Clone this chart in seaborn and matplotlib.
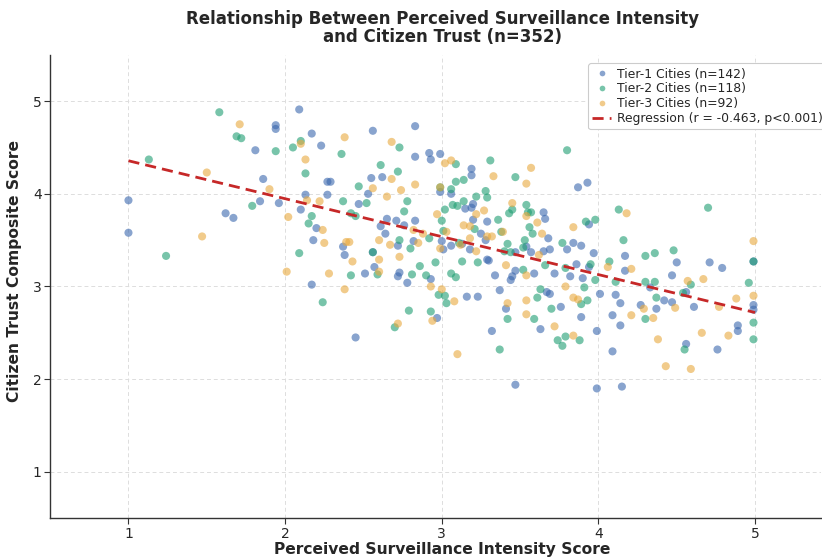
import numpy as np
import pandas as pd
import matplotlib
matplotlib.use("Agg")
import matplotlib.pyplot as plt
import seaborn as sns

# Survey responses: (perceived surveillance intensity, citizen trust composite)
tier1_x = [1.94, 1.94, 1.81, 1.86, 1.00, 1.84, 1.96, 1.62, 1.67, 1.00,
           2.09, 2.17, 2.56, 2.83, 2.23, 2.92, 2.99, 2.83, 2.93, 2.27, 2.29, 2.55, 2.62, 2.99,
           2.13, 2.27, 2.53, 2.47, 2.10, 2.65, 2.71, 2.83, 2.20, 2.61, 2.76, 2.64, 2.18, 2.82,
           2.37, 2.72, 3.00, 2.38, 2.51, 2.56, 2.57, 2.72, 2.73, 2.78, 2.93, 2.17, 2.97, 2.45,
           3.19, 3.19, 3.87, 3.93, 3.06, 3.20, 3.15, 3.19, 3.65, 3.66, 3.20, 3.29, 3.94, 3.25,
           3.28, 3.68, 3.13, 3.84, 3.89, 3.06, 3.01, 3.54,
           3.18, 3.47, 3.57, 3.65, 3.69, 3.80, 3.97, 3.29, 3.30, 3.86, 3.94, 3.34, 3.47, 3.45,
           3.44, 3.59, 3.72, 3.82, 3.90, 3.16, 3.23, 3.37, 3.41, 3.67, 3.69, 3.76, 3.89, 4.01,
           4.11, 3.63, 3.32, 3.99, 4.09, 4.09, 3.47, 3.99,
           4.99, 4.17, 4.17, 4.50, 4.71, 4.79, 4.47, 4.33, 4.56, 4.14, 4.42, 4.47, 4.27, 4.37,
           4.61, 4.99, 4.99, 4.14, 4.89, 4.89, 4.56, 4.76, 4.15]
tier1_y = [4.74, 4.70, 4.47, 4.16, 3.93, 3.92, 3.90, 3.79, 3.74, 3.58,
           4.91, 4.65, 4.68, 4.73, 4.52, 4.44, 4.43, 4.40, 4.37, 4.13, 4.13, 4.17, 4.18, 4.02,
           3.99, 3.99, 4.00, 3.89, 3.83, 3.73, 3.71, 3.71, 3.63, 3.65, 3.66, 3.57, 3.50, 3.49,
           3.43, 3.44, 3.49, 3.34, 3.14, 3.37, 3.21, 3.11, 3.15, 3.04, 3.08, 3.02, 2.66, 2.45,
           4.27, 4.20, 4.07, 4.12, 4.00, 3.89, 3.84, 3.85, 3.80, 3.73, 3.72, 3.70, 3.67, 3.57,
           3.50, 3.52, 3.46, 3.47, 3.44, 3.44, 3.40, 3.43,
           3.40, 3.37, 3.37, 3.38, 3.40, 3.40, 3.36, 3.29, 3.28, 3.24, 3.21, 3.12, 3.17, 3.11,
           3.07, 3.14, 3.14, 3.11, 3.09, 2.89, 2.89, 2.96, 2.76, 2.94, 2.92, 2.78, 2.67, 2.92,
           2.91, 2.54, 2.52, 2.52, 2.69, 2.30, 1.94, 1.90,
           3.27, 3.33, 3.17, 3.26, 3.26, 3.20, 3.12, 2.99, 2.94, 2.82, 2.85, 2.83, 2.80, 2.76,
           2.78, 2.80, 2.75, 2.58, 2.58, 2.52, 2.38, 2.32, 1.92]

tier2_x = [1.58, 1.69, 1.72, 1.94, 1.13, 1.79, 1.24,
           2.10, 2.05, 2.73, 2.36, 2.61, 2.72, 2.13, 2.47, 2.99, 2.37, 2.52, 2.78, 3.02, 2.76,
           2.17, 2.42, 2.45, 3.00, 2.15, 2.73, 2.92, 2.80,
           2.09, 2.42, 2.56, 2.59, 2.86, 2.81, 2.96, 2.90, 2.98, 3.02, 3.03, 2.24, 2.79, 2.93, 2.70,
           3.80, 3.31, 3.09, 3.47, 3.09, 3.14, 3.06, 3.28, 3.22, 3.29, 3.14, 3.07, 3.10, 3.54,
           3.45, 3.43, 3.57, 3.55, 3.36, 3.56, 3.92, 3.98, 3.21, 3.38, 3.58, 3.53, 3.01, 3.11,
           3.42, 3.77, 3.52,
           3.40, 3.44, 3.13, 3.23, 3.66, 3.95, 4.07, 3.06, 3.09, 3.52, 3.79, 3.98, 4.11, 3.42,
           3.59, 3.61, 3.63, 3.70, 3.89, 3.91, 3.93, 3.79, 3.74, 3.77, 3.88, 3.37,
           4.99, 4.16, 4.30, 4.36, 4.48, 4.30, 4.36, 4.59, 4.96, 4.54, 4.37, 4.30, 4.99, 4.99,
           4.55, 4.13, 4.70]
tier2_y = [4.88, 4.62, 4.60, 4.46, 4.37, 3.87, 3.33,
           4.57, 4.50, 4.50, 4.43, 4.31, 4.24, 4.22, 4.08, 4.07, 3.92, 3.90, 3.92, 3.83, 3.81,
           3.76, 3.79, 3.76, 3.71, 3.68, 3.50, 3.52, 3.41,
           3.36, 3.12, 3.37, 3.13, 3.22, 3.13, 3.26, 3.12, 2.91, 2.90, 2.82, 2.83, 2.74, 2.73, 2.56,
           4.47, 4.36, 4.32, 4.18, 4.13, 4.15, 4.05, 4.03, 3.97, 3.96, 3.92, 3.88, 3.87, 3.88,
           3.83, 3.79, 3.80, 3.80, 3.72, 3.64, 3.70, 3.72, 3.62, 3.59, 3.57, 3.50, 3.60, 3.47,
           3.46, 3.47, 3.42,
           3.38, 3.37, 3.27, 3.26, 3.23, 3.24, 3.27, 3.14, 3.10, 3.18, 3.20, 3.07, 3.05, 2.65,
           2.65, 2.88, 2.97, 2.76, 2.81, 2.99, 2.85, 2.46, 2.42, 2.36, 2.42, 2.32,
           3.27, 3.50, 3.33, 3.36, 3.39, 3.05, 3.05, 3.02, 3.04, 2.93, 2.88, 2.65, 2.61, 2.43,
           2.32, 3.83, 3.85]

tier3_x = [1.71, 1.50, 1.90, 1.47,
           2.38, 2.10, 2.68, 2.13, 3.02, 2.68, 2.83, 2.56, 2.74, 2.99, 2.65, 2.14, 2.22, 2.97,
           2.02, 2.24, 2.82, 2.88, 2.25, 2.60, 2.39, 2.41, 2.67, 2.85, 2.99,
           2.01, 2.28, 2.43, 2.60, 2.60, 2.73, 2.93, 3.00, 2.38, 2.94, 2.72,
           3.06, 3.57, 3.33, 3.54, 3.27, 3.45, 3.22, 3.54, 3.61, 3.84, 3.14, 3.18, 3.39, 3.29,
           3.32, 3.64, 3.18, 3.03, 3.12,
           3.22, 3.62, 3.41, 4.06, 3.54, 3.08, 3.42, 3.54, 3.54, 3.79, 3.84, 3.87, 3.72, 3.84, 3.10,
           4.99, 4.21, 4.67, 4.57, 4.99, 4.29, 4.49, 4.88, 4.77, 4.21, 4.35, 4.66, 4.83, 4.38,
           4.43, 4.59, 4.18]
tier3_y = [4.75, 4.23, 4.05, 3.54,
           4.61, 4.54, 4.56, 4.37, 4.33, 4.16, 4.10, 4.06, 4.04, 4.07, 3.97, 3.93, 3.92, 3.78,
           3.75, 3.61, 3.61, 3.57, 3.47, 3.50, 3.48, 3.48, 3.45, 3.47, 3.41,
           3.16, 3.14, 3.27, 3.29, 3.16, 3.32, 3.00, 2.97, 2.97, 2.63, 2.60,
           4.36, 4.28, 4.19, 4.11, 3.82, 3.90, 3.78, 3.76, 3.69, 3.64, 3.66, 3.65, 3.59, 3.54,
           3.54, 3.57, 3.52, 3.59, 3.45,
           3.38, 3.34, 3.23, 3.21, 3.12, 2.84, 2.82, 2.85, 2.70, 3.00, 2.88, 2.86, 2.57, 2.47, 2.27,
           3.49, 3.19, 3.08, 3.06, 2.90, 2.76, 2.77, 2.87, 2.78, 2.69, 2.66, 2.50, 2.47, 2.43,
           2.14, 2.11, 3.79]

tier_labels = ["Tier-1 Cities (n=142)", "Tier-2 Cities (n=118)", "Tier-3 Cities (n=92)"]
tier_colors = ["#3A67AE", "#1E9E72", "#E8A93E"]
reg_label = "Regression (r = -0.463, p<0.001)"

df = pd.concat([
    pd.DataFrame({"intensity": tier1_x, "trust": tier1_y, "tier": tier_labels[0]}),
    pd.DataFrame({"intensity": tier2_x, "trust": tier2_y, "tier": tier_labels[1]}),
    pd.DataFrame({"intensity": tier3_x, "trust": tier3_y, "tier": tier_labels[2]}),
], ignore_index=True)

sns.set_theme(style="white")
plt.rcParams["font.family"] = ["DejaVu Sans"]

fig = plt.figure(figsize=(8.22, 5.59), dpi=100)
ax = fig.add_axes([0.061, 0.073, 0.9376, 0.829])

sns.scatterplot(data=df, x="intensity", y="trust", hue="tier",
                hue_order=tier_labels, palette=tier_colors,
                s=34, alpha=0.6, linewidth=0, ax=ax, legend=True)

# Least-squares fit over all respondents
slope, intercept = np.polyfit(df["intensity"], df["trust"], 1)
fit_x = np.array([1.0, 5.0])
ax.plot(fit_x, intercept + slope * fit_x, color="#C62828", lw=2,
        ls=(0, (4, 2.2)), label=reg_label)

ax.set_xlim(0.5, 5.42)
ax.set_ylim(0.5, 5.5)
ax.set_xticks([1, 2, 3, 4, 5])
ax.set_yticks([1, 2, 3, 4, 5])
ax.tick_params(axis="both", labelsize=10, length=4, width=0.8, color="#333333",
               left=True, bottom=True, pad=2)
ax.grid(True, ls=(0, (4, 3)), lw=0.7, color="#dddddd")
for side in ["top", "right"]:
    ax.spines[side].set_visible(False)
for side in ["left", "bottom"]:
    ax.spines[side].set_color("#333333")
    ax.spines[side].set_linewidth(1.0)

ax.set_xlabel("Perceived Surveillance Intensity Score", fontsize=11.2,
              fontweight="bold", labelpad=1)
ax.xaxis.set_label_coords(0.509, -0.052)
ax.set_ylabel("Citizen Trust Composite Score", fontsize=11.2,
              fontweight="bold", labelpad=5)
ax.yaxis.set_label_coords(-0.036, 0.533)
ax.set_title("Relationship Between Perceived Surveillance Intensity\nand Citizen Trust (n=352)",
             fontsize=12, fontweight="bold", pad=9, x=0.509, linespacing=1.0)

handles, labels = ax.get_legend_handles_labels()
leg = ax.legend(handles, labels, loc="upper left", bbox_to_anchor=(0.69, 0.995),
                fontsize=8.9, frameon=True, framealpha=1, edgecolor="#cccccc",
                markerscale=0.7, borderpad=0.35, labelspacing=0.15,
                handlelength=1.5, handletextpad=0.5)
leg.get_frame().set_linewidth(0.8)

fig.savefig("out.png", dpi=100)
